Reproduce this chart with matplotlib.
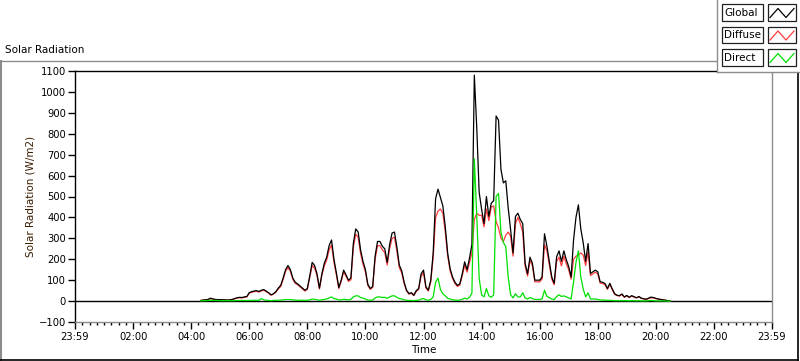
import numpy as np
import matplotlib
matplotlib.use('Agg')
import matplotlib.pyplot as plt
from matplotlib.ticker import MultipleLocator
from matplotlib.lines import Line2D
from matplotlib.patches import Rectangle

# 5-minute readings, 04:20 .. 20:30 (W/m2)
global_wm2 = [
    3, 5, 6, 8, 14, 10, 8, 7,
    7, 6, 6, 5, 6, 8, 12, 16, 18, 17, 20, 22,
    40, 45, 48, 50, 46, 52, 55, 48, 40, 30, 35, 45,
    62, 75, 110, 150, 170, 150, 110, 90, 82, 72, 62, 52,
    60, 120, 185, 170, 130, 62, 130, 180, 210, 265, 292, 200,
    135, 65, 100, 148, 125, 100, 110, 275, 345, 330, 245, 190,
    150, 80, 60, 70, 215, 285, 285, 262, 250, 185, 270, 325,
    330, 258, 172, 145, 90, 52, 36, 40, 28, 50, 60, 130,
    148, 68, 52, 100, 230, 490, 535, 495, 455, 355, 228, 155,
    115, 90, 75, 82, 130, 188, 150, 205, 270, 1080, 830, 520,
    440, 370, 500, 405, 468, 480, 885, 865, 630, 565, 575, 445,
    340, 230, 405, 420, 390, 370, 180, 130, 210, 180, 100, 100,
    100, 115, 322, 262, 188, 115, 85, 212, 240, 190, 240, 198,
    165, 115, 292, 400, 460, 345, 278, 190, 275, 132, 140, 148,
    140, 92, 90, 84, 60, 85, 58, 35, 28, 26, 34, 20,
    27, 18, 26, 21, 16, 22, 14, 11, 9, 14, 19, 17,
    13, 10, 8, 6, 4, 2, 0,
]
diffuse_wm2 = [
    3, 5, 6, 7, 12, 9, 7, 6,
    6, 5, 5, 4, 5, 7, 11, 15, 16, 15, 18, 20,
    38, 42, 45, 47, 43, 49, 51, 45, 38, 28, 33, 42,
    58, 70, 104, 142, 160, 142, 104, 85, 78, 68, 58, 48,
    56, 112, 170, 158, 122, 58, 122, 168, 196, 245, 268, 185,
    125, 60, 94, 140, 118, 94, 102, 255, 320, 305, 228, 176,
    140, 75, 56, 65, 200, 265, 265, 245, 232, 172, 250, 300,
    305, 240, 160, 135, 84, 48, 33, 37, 26, 46, 56, 118,
    136, 62, 48, 92, 210, 400, 430, 440, 420, 330, 215, 145,
    108, 84, 70, 76, 120, 172, 138, 185, 230, 390, 420, 410,
    410, 355, 440, 385, 450, 455, 380, 350, 300, 285, 315, 330,
    310, 215, 370, 400, 370, 330, 165, 120, 195, 168, 92, 92,
    92, 105, 270, 240, 172, 105, 78, 190, 210, 168, 215, 178,
    150, 105, 200, 215, 220, 230, 220, 170, 235, 122, 130, 138,
    130, 86, 84, 78, 56, 80, 54, 32, 26, 24, 32, 18,
    25, 17, 24, 19, 15, 20, 13, 10, 8, 12, 16, 15,
    12, 9, 7, 5, 4, 2, 0,
]
direct_wm2 = [
    1, 2, 2, 3, 4, 3, 3, 3,
    2, 2, 2, 2, 2, 2, 2, 3, 3, 3, 3, 3,
    3, 3, 4, 4, 4, 12, 6, 4, 3, 2, 3, 4,
    4, 5, 6, 7, 8, 7, 6, 5, 4, 4, 4, 4,
    4, 6, 10, 8, 6, 4, 6, 8, 10, 15, 20, 12,
    10, 5, 6, 8, 7, 6, 8, 20, 25, 25, 17, 14,
    10, 5, 4, 5, 15, 20, 20, 17, 18, 13, 20, 25,
    25, 18, 12, 10, 6, 4, 3, 3, 2, 4, 4, 10,
    12, 6, 4, 8, 20, 90, 110, 55, 35, 25, 13, 10,
    6, 5, 4, 5, 8, 14, 10, 18, 38, 680, 410, 110,
    30, 20, 60, 25, 18, 30, 500, 515, 330, 280, 260, 115,
    30, 15, 35, 20, 20, 40, 15, 10, 17, 12, 8, 8,
    8, 10, 52, 22, 16, 10, 7, 22, 30, 22, 25, 20,
    15, 10, 92, 185, 240, 115, 58, 20, 40, 10, 10, 10,
    8, 5, 5, 5, 3, 4, 3, 2, 2, 2, 2, 2,
    2, 1, 2, 2, 1, 2, 1, 1, 1, 2, 3, 2,
    1, 1, 1, 1, 0, 0, 0,
]
tick_labels = ['23:59', '02:00', '04:00', '06:00', '08:00', '10:00', '12:00',
               '14:00', '16:00', '18:00', '20:00', '22:00', '23:59']
legend_names = ['Global', 'Diffuse', 'Direct']

W, H = 800, 361
BLACK, RED, GREEN, GRAY = '#000000', '#ff3c3c', '#00e000', '#8c8c8c'
FONT = 'DejaVu Sans'


def px(x, y):
    return x / W, 1 - y / H


t_hours = 4 + 20 / 60 + np.arange(len(global_wm2)) * 5 / 60

fig = plt.figure(figsize=(W / 100, H / 100), dpi=100)
fig.patch.set_facecolor('white')
ax = fig.add_axes([75 / W, 1 - 322 / H, 697 / W, 251 / H])

ax.axhline(0, color=BLACK, linewidth=1.0, zorder=1)
ax.plot(t_hours, diffuse_wm2, color=RED, linewidth=0.9, zorder=2)
ax.plot(t_hours, global_wm2, color=BLACK, linewidth=0.9, zorder=3)
ax.plot(t_hours, direct_wm2, color=GREEN, linewidth=0.9, zorder=4)

ax.set_xlim(0, 24)
ax.set_ylim(-100, 1100)
ax.set_xticks(np.arange(0, 25, 2))
ax.set_xticklabels(tick_labels)
ax.xaxis.set_minor_locator(MultipleLocator(0.25))
ax.yaxis.set_major_locator(MultipleLocator(100))

for side in ['left', 'top']:
    ax.spines[side].set_color(BLACK)
    ax.spines[side].set_linewidth(1.0)
for side in ['right', 'bottom']:
    ax.spines[side].set_color(GRAY)
    ax.spines[side].set_linewidth(1.0)

ax.tick_params(axis='y', which='major', direction='out', length=5, width=1,
               pad=1.5, labelsize=7.2, colors=BLACK)
ax.tick_params(axis='x', which='major', direction='out', length=5, width=1,
               pad=2.5, labelsize=7.2, colors=BLACK)
ax.tick_params(axis='x', which='minor', direction='out', length=2.5, width=1,
               colors=BLACK)
for lab in ax.get_xticklabels() + ax.get_yticklabels():
    lab.set_fontfamily(FONT)

ax.set_xlabel('Time', fontsize=7.5, fontfamily=FONT, labelpad=2)
ax.set_ylabel('Solar Radiation (W/m2)', fontsize=7.5, fontfamily=FONT, labelpad=2,
              color='#3a1c00')

# panel frame and title
fig.text(*px(5, 50), 'Solar Radiation', fontsize=7.5, fontfamily=FONT,
         ha='left', va='center')
fig.add_artist(Line2D([0, 717 / W], [1 - 61 / H] * 2, color=GRAY, linewidth=1))
fig.add_artist(Line2D([0.5 / W] * 2, [1 - 61 / H, 0], color=GRAY, linewidth=1.5))
fig.add_artist(Line2D([0, 798 / W], [1 - 359.5 / H] * 2, color=BLACK, linewidth=1.2))
fig.add_artist(Line2D([798 / W] * 2, [1 - 72 / H, 0], color=BLACK, linewidth=1.2))

# legend panel in the top right corner
fig.add_artist(Rectangle(px(717, 72), 83 / W, 72 / H, facecolor='white',
                         edgecolor='none', zorder=5))
fig.add_artist(Line2D([717 / W] * 2, [1, 1 - 72 / H], color=GRAY, linewidth=1, zorder=6))
fig.add_artist(Line2D([717 / W, 1], [1 - 72 / H] * 2, color=GRAY, linewidth=1, zorder=6))

row_tops = [4.5, 27, 49.5]
for name, color, top in zip(legend_names, [BLACK, RED, GREEN], row_tops):
    fig.add_artist(Rectangle(px(722, top + 16), 41 / W, 16 / H, facecolor='white',
                             edgecolor='#202020', linewidth=0.9, zorder=7))
    fig.add_artist(Rectangle(px(768, top + 16), 28 / W, 16 / H, facecolor='white',
                             edgecolor='#202020', linewidth=0.9, zorder=7))
    fig.text(*px(724, top + 8.5), name, fontsize=7.5, fontfamily=FONT,
             ha='left', va='center', zorder=8)
    zx = [770, 778, 786, 794]
    zy = [top + 13, top + 4, top + 13, top + 4]
    fig.add_artist(Line2D([x / W for x in zx], [1 - y / H for y in zy],
                          color=color, linewidth=0.9, zorder=8))

fig.savefig('out.png', dpi=100, facecolor='white')
